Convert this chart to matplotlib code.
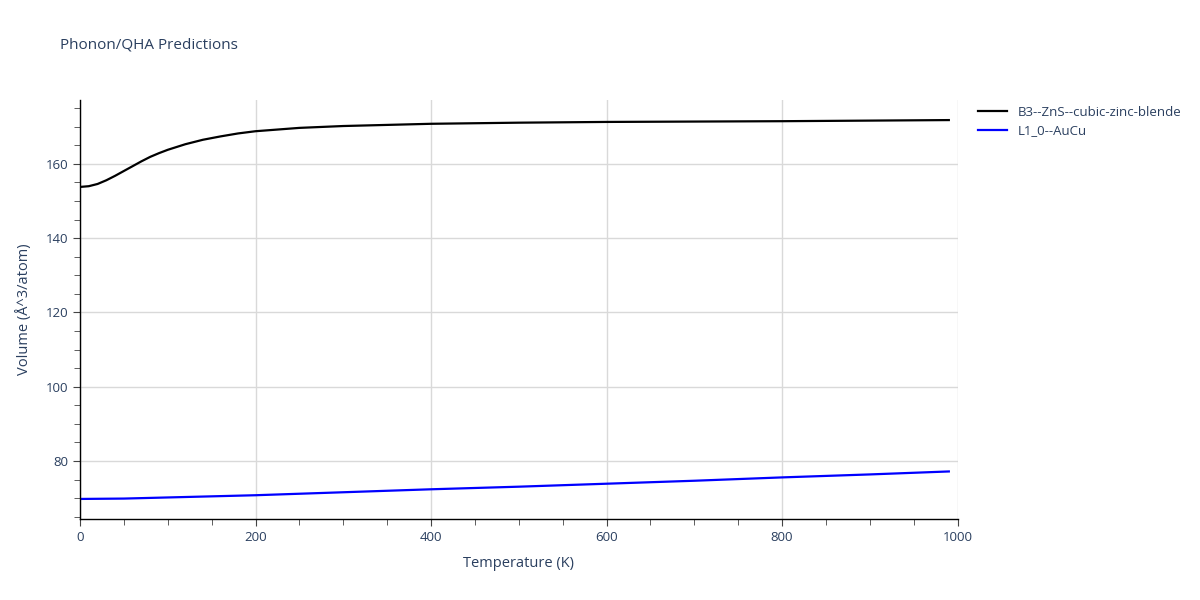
import matplotlib
matplotlib.use("Agg")
import matplotlib.pyplot as plt
from matplotlib.ticker import MultipleLocator

plt.rcParams['font.family'] = ['Open Sans', 'DejaVu Sans']

TEXT = '#2a3f5f'

# B3--ZnS--cubic-zinc-blende
tempB3 = [0, 10, 20, 30, 40, 50, 60, 70, 80, 90, 100, 120, 140, 160, 180, 200,
          250, 300, 400, 500, 600, 800, 990]
volB3 = [153.8, 154.0, 154.6, 155.6, 156.8, 158.1, 159.4, 160.7, 161.9, 162.9,
         163.8, 165.3, 166.5, 167.4, 168.2, 168.8, 169.7, 170.2, 170.8, 171.1,
         171.3, 171.5, 171.8]

# L1_0--AuCu
tempAuCu = [0, 50, 100, 200, 300, 400, 500, 600, 700, 800, 900, 990]
volAuCu = [69.8, 69.9, 70.2, 70.8, 71.6, 72.4, 73.1, 73.9, 74.7, 75.6, 76.4, 77.2]

fig = plt.figure(figsize=(12, 6), dpi=100)
ax = fig.add_axes([0.0667, 0.135, 0.7313, 0.6983])

ax.plot(tempB3, volB3, color='black', lw=1.6, label='B3--ZnS--cubic-zinc-blende')
ax.plot(tempAuCu, volAuCu, color='blue', lw=1.6, label='L1_0--AuCu')

ax.set_xlim(0, 1000)
ax.set_ylim(64.4, 177.2)
ax.xaxis.set_major_locator(MultipleLocator(200))
ax.xaxis.set_minor_locator(MultipleLocator(50))
ax.yaxis.set_major_locator(MultipleLocator(20))
ax.yaxis.set_minor_locator(MultipleLocator(5))

ax.grid(True, which='major', color='#d9d9d9', lw=1)
ax.set_axisbelow(True)
for s in ['top', 'right']:
    ax.spines[s].set_visible(False)
for s in ['left', 'bottom']:
    ax.spines[s].set_color('black')
    ax.spines[s].set_linewidth(1)

ax.tick_params(which='both', direction='out', color='#444444', labelcolor=TEXT, labelsize=9.5)
ax.tick_params(which='major', length=5)
ax.tick_params(which='minor', length=4)

ax.set_xlabel('Temperature (K)', color=TEXT, fontsize=10.5, labelpad=9)
ax.set_ylabel('Volume (Å^3/atom)', color=TEXT, fontsize=10.5, labelpad=10)

fig.text(0.05, 0.925, 'Phonon/QHA Predictions', color=TEXT, fontsize=11, va='center')

leg = ax.legend(loc='upper left', bbox_to_anchor=(1.01, 1.015), frameon=False,
                fontsize=9.5, handlelength=2.2, labelspacing=0.45)
for t in leg.get_texts():
    t.set_color(TEXT)

fig.savefig('out.png', dpi=100)
